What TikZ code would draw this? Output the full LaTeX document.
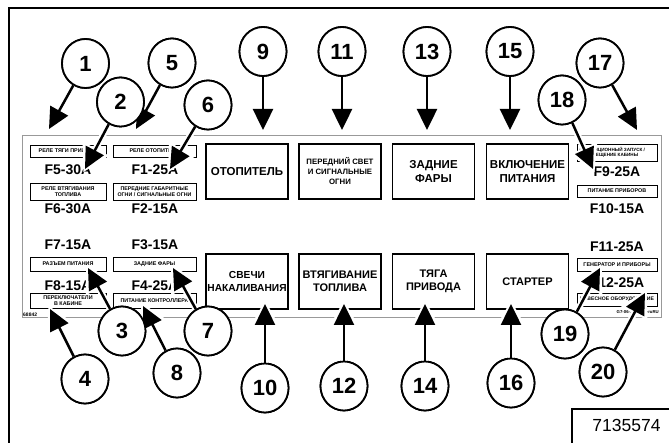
\documentclass[tikz,border=0pt]{standalone}
\usepackage{fontspec}
\setmainfont{Liberation Sans}
\usetikzlibrary{arrows.meta,shapes.geometric}
\begin{document}
\begin{tikzpicture}[x=1pt,y=-1pt,
  num/.style={ellipse, draw, line width=1.8pt, fill=white, minimum width=47pt, minimum height=49pt, inner sep=0pt, font=\fontsize{22}{22}\selectfont\bfseries},
  arr/.style={line width=2.5pt, -{Triangle[length=21pt,width=20pt]}, preaction={draw=white, line width=6.5pt, -{Triangle[length=27pt,width=28pt]}, shorten >=-4pt}},
  lbl/.style={draw, line width=0.9pt, inner sep=0pt, align=center, font=\fontsize{5.4}{6}\selectfont\bfseries},
  lbltext/.style={inner sep=0pt, align=center, font=\fontsize{4.6}{5.6}\selectfont\bfseries},
  fuse/.style={inner sep=0pt, font=\fontsize{14}{14}\selectfont\bfseries},
  big/.style={draw, line width=1.2pt, minimum width=82pt, minimum height=55pt, inner sep=0pt, align=center, font=\fontsize{11.5}{13.5}\selectfont\bfseries},
  bigb/.style={big, font=\fontsize{11}{13}\selectfont\bfseries},
  tiny/.style={inner sep=0pt, font=\fontsize{5}{5}\selectfont\bfseries},
]
\useasboundingbox (0,0) rectangle (669,443);
\clip (0,0) rectangle (669,443);
% outer frame
\draw[line width=2.2pt] (9,470) -- (9,8) -- (690,8);
% panel
\draw[gray!80, line width=0.8pt] (22,135) rectangle (661,317.5);

% column 1
\node[lbl, minimum width=76pt, minimum height=12pt] (l5) at (68,151) {РЕЛЕ ТЯГИ ПРИВОДА};
\node[fuse] (f5) at (68,170) {F5-30A};
\node[lbl, minimum width=76pt, minimum height=17pt] (l6) at (68,191.5) {РЕЛЕ ВТЯГИВАНИЯ\\ТОПЛИВА};
\node[fuse] (f6) at (68,209) {F6-30A};
\node[fuse] (f7) at (68,245) {F7-15A};
\node[lbl, minimum width=76pt, minimum height=14pt] (l7) at (68,264) {РАЗЪЕМ ПИТАНИЯ};
\node[fuse] (f8) at (68,286) {F8-15A};
\node[lbl, minimum width=76pt, minimum height=15pt] (l8) at (68,300.5) {ПЕРЕКЛЮЧАТЕЛИ\\В КАБИНЕ};
\node[tiny, anchor=west] (code1) at (23,314.5) {68842};

% column 2
\node[lbl, minimum width=83pt, minimum height=12pt] (l1) at (154.5,151) {РЕЛЕ ОТОПИТЕЛЯ};
\node[fuse] (f1) at (155,170) {F1-25A};
\node[lbl, minimum width=83pt, minimum height=17pt, font=\fontsize{5.3}{6}\selectfont\bfseries] (l2) at (154.5,191.5) {ПЕРЕДНИЕ ГАБАРИТНЫЕ\\ОГНИ / СИГНАЛЬНЫЕ ОГНИ};
\node[fuse] (f2) at (155,209) {F2-15A};
\node[fuse] (f3) at (155,245) {F3-15A};
\node[lbl, minimum width=83pt, minimum height=14pt] (l3) at (154.5,264) {ЗАДНИЕ ФАРЫ};
\node[fuse] (f4) at (155,286) {F4-25A};
\node[lbl, minimum width=83pt, minimum height=15pt] (l4) at (154.5,300.5) {ПИТАНИЕ КОНТРОЛЛЕРА};

% right column
\node[lbl, minimum width=80pt, minimum height=17pt] (l9) at (617,152.5) {};
\node[lbltext] (l9t) at (612,152.5) {ДИСТАНЦИОННЫЙ ЗАПУСК /\\ОСВЕЩЕНИЕ КАБИНЫ};
\node[fuse] (f9) at (617,172) {F9-25A};
\node[lbl, minimum width=80pt, minimum height=12pt] (l10) at (617,191) {ПИТАНИЕ ПРИБОРОВ};
\node[fuse] (f10) at (617,209) {F10-15A};
\node[fuse] (f11) at (617,247) {F11-25A};
\node[lbl, minimum width=80pt, minimum height=13pt] (l11) at (617,264.5) {ГЕНЕРАТОР И ПРИБОРЫ};
\node[fuse] (f12) at (617,283) {F12-25A};
\node[lbl, minimum width=80pt, minimum height=13pt, font=\fontsize{5.1}{6}\selectfont\bfseries] (l12) at (617,299.5) {НАВЕСНОЕ ОБОРУДОВАНИЕ};
\node[tiny, anchor=east, font=\fontsize{4.3}{5}\selectfont\bfseries] (code2) at (659,312) {G7-06-7135574-ruRU};

% big boxes
\node[big] (b9) at (247,171.5) {ОТОПИТЕЛЬ};
\node[big, font=\fontsize{7.8}{10}\selectfont\bfseries] (b11) at (340,171.5) {ПЕРЕДНИЙ СВЕТ\\И СИГНАЛЬНЫЕ\\ОГНИ};
\node[big] (b13) at (433.5,171.5) {ЗАДНИЕ\\ФАРЫ};
\node[big] (b15) at (527.5,171.5) {ВКЛЮЧЕНИЕ\\ПИТАНИЯ};
\node[bigb, font=\fontsize{10.2}{13}\selectfont\bfseries] (b10) at (247,281.5) {СВЕЧИ\\НАКАЛИВАНИЯ};
\node[bigb] (b12) at (340,281.5) {ВТЯГИВАНИЕ\\ТОПЛИВА};
\node[bigb] (b14) at (433.5,281.5) {ТЯГА\\ПРИВОДА};
\node[bigb] (b16) at (527.5,281.5) {СТАРТЕР};

% number circles (placed first so arrows can refer to them)
\node[num] (c1) at (85.5,63.5) {1};
\node[num] (c5) at (172,63) {5};
\node[num] (c9) at (263,51.5) {9};
\node[num] (c11) at (342,51.5) {11};
\node[num] (c13) at (427,51.5) {13};
\node[num] (c15) at (510,51.5) {15};
\node[num] (c17) at (600,63) {17};
\node[num] (c2) at (120.5,102) {2};
\node[num] (c6) at (208,105) {6};
\node[num] (c18) at (562,100) {18};
\node[num] (c3) at (122,331) {3};
\node[num] (c7) at (208,331) {7};
\node[num] (c19) at (565,334) {19};
\node[num] (c4) at (85,379) {4};
\node[num] (c8) at (177,373) {8};
\node[num] (c20) at (603,372) {20};
\node[num] (c10) at (265,388) {10};
\node[num] (c12) at (344,386) {12};
\node[num] (c14) at (425,386) {14};
\node[num] (c16) at (511,383) {16};

% arrow targets
\coordinate (t1) at (49,129);
\coordinate (t5) at (136,129);
\coordinate (t9) at (263,130);
\coordinate (t11) at (342,130);
\coordinate (t13) at (427,130);
\coordinate (t15) at (510,130);
\coordinate (t17) at (637,130);
\coordinate (t2) at (85,169);
\coordinate (t6) at (170,169);
\coordinate (t18) at (593,169);
\coordinate (t3) at (88,268);
\coordinate (t7) at (173,268);
\coordinate (t19) at (600,268);
\coordinate (t4) at (50,309);
\coordinate (t8) at (143,306);
\coordinate (t20) at (645,293);
\coordinate (t10) at (265,304);
\coordinate (t12) at (344,304);
\coordinate (t14) at (425,304);
\coordinate (t16) at (511,304);

\foreach \n in {1,5,9,11,13,15,17,2,6,18,3,7,19,4,8,20,10,12,14,16}
  \draw[arr] (c\n) -- (t\n);

% redraw circles on top of the arrow halos
\foreach \n/\x/\y in {1/85.5/63.5,5/172/63,9/263/51.5,11/342/51.5,13/427/51.5,15/510/51.5,17/600/63,2/120.5/102,6/208/105,18/562/100,3/122/331,7/208/331,19/565/334,4/85/379,8/177/373,20/603/372,10/265/388,12/344/386,14/425/386,16/511/383}
  \node[num] (d\n) at (\x,\y) {\n};

% id box
\node[draw, line width=2pt, anchor=north west, minimum width=120pt, minimum height=60pt] (idbox) at (571,408) {};
\node[inner sep=0pt, font=\fontsize{17.5}{17.5}\selectfont] (idtext) at (626.5,425.5) {7135574};
\end{tikzpicture}
\end{document}
